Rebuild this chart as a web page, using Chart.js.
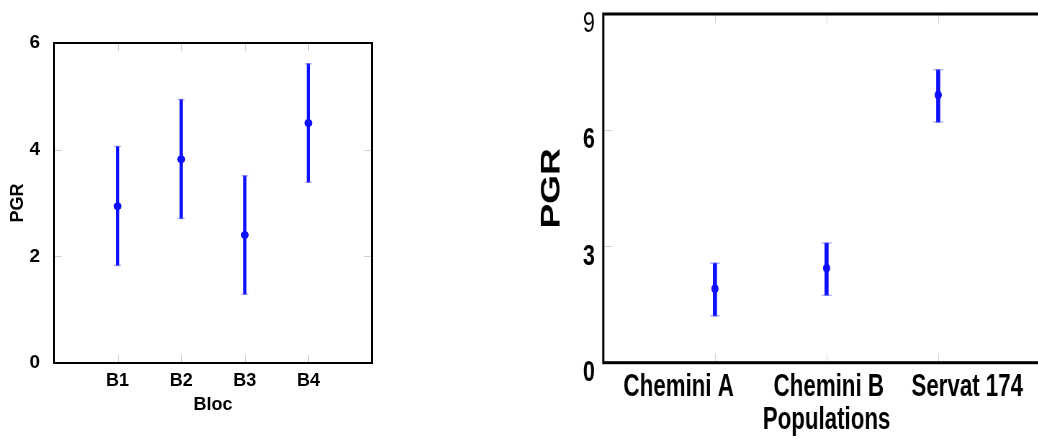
<!DOCTYPE html>
<html>
<head>
<meta charset="utf-8">
<script src="https://cdn.jsdelivr.net/npm/chart.js@4.4.1/dist/chart.umd.min.js"></script>
<style>
  html, body { margin: 0; padding: 0; background: #fff; overflow: hidden; width: 1038px; height: 439px; }
  #c1 { position: absolute; left: 0; top: 0; }
  /* the right panel in the original is squeezed sideways */
  #c2 { position: absolute; left: 530px; top: 0; transform: scaleX(0.72); transform-origin: 0 0; }
</style>
</head>
<body>
<canvas id="c1" width="400" height="439"></canvas>
<canvas id="c2" width="740" height="439"></canvas>
<script>
// left panel: PGR by bloc
const blocs = ['B1', 'B2', 'B3', 'B4']
const blocMean = [2.94, 3.82, 2.40, 4.50]
const blocLow = [1.83, 2.71, 1.29, 3.39]
const blocHigh = [4.06, 4.94, 3.51, 5.61]
const blocTicks = [0, 2, 4, 6]

// right panel: PGR by population
const populations = ['Chemini A', 'Chemini B', 'Servat 174']
const popMean = [1.91, 2.44, 6.91]
const popLow = [1.21, 1.74, 6.21]
const popHigh = [2.57, 3.09, 7.56]
const popTicks = [0, 3, 6, 9]

const BLUE = 'rgb(15,15,255)'
const CAP = 'rgba(90,90,255,0.45)'
const ARIAL = "'Liberation Sans', Arial, sans-serif"

// frame + short grey ticks pointing inwards
const frame = {
  id: 'frame',
  afterDraw(chart, args, opts) {
    const {ctx, chartArea: a, scales} = chart
    ctx.save()
    ctx.strokeStyle = '#cfcfcf'
    ctx.lineWidth = 1
    opts.xTicks.forEach(v => {
      const x = Math.round(scales.x.getPixelForValue(v)) + 0.5
      ctx.beginPath()
      ctx.moveTo(x, a.top); ctx.lineTo(x, a.top + opts.lenX)
      ctx.moveTo(x, a.bottom); ctx.lineTo(x, a.bottom - opts.lenX)
      ctx.stroke()
    })
    opts.yTicks.forEach(v => {
      const y = Math.round(scales.y.getPixelForValue(v)) + 0.5
      ctx.beginPath()
      ctx.moveTo(a.left, y); ctx.lineTo(a.left + opts.lenY, y)
      ctx.moveTo(a.right, y); ctx.lineTo(a.right - opts.lenY, y)
      ctx.stroke()
    })
    ctx.strokeStyle = '#000'
    ctx.lineWidth = opts.width
    ctx.strokeRect(a.left, a.top, a.right - a.left, a.bottom - a.top)
    ctx.restore()
  }
}

function makeDatasets(mean, low, high, o) {
  return [
    {
      type: 'scatter',
      data: mean.map((v, i) => ({x: i + 1, y: v})),
      backgroundColor: BLUE, borderColor: BLUE,
      pointRadius: o.dot, order: 0
    },
    {
      type: 'scatter',
      data: low.map((v, i) => ({x: i + 1, y: v})).concat(high.map((v, i) => ({x: i + 1, y: v}))),
      pointStyle: 'line', pointRadius: o.cap, borderColor: CAP, borderWidth: 1.5, order: 1
    },
    {
      type: 'bar',
      data: low.map((v, i) => ({x: i + 1, y: [v, high[i]]})),
      backgroundColor: BLUE, borderWidth: 0, barThickness: o.bar, grouped: false, order: 2
    }
  ]
}

// fixed axis boxes, no extra room for the end labels
const fixX = h => s => { s.height = h; s.paddingLeft = 0; s.paddingRight = 0 }
const fixY = w => s => { s.width = w; s.paddingTop = 0; s.paddingBottom = 0 }

new Chart(document.getElementById('c1'), {
  type: 'scatter',
  data: { datasets: makeDatasets(blocMean, blocLow, blocHigh, {dot: 3.5, cap: 3.5, bar: 2.6}) },
  options: {
    responsive: false, animation: false, devicePixelRatio: 1,
    layout: { padding: { top: 43, right: 28, left: 0, bottom: 0 } },
    plugins: {
      legend: { display: false }, tooltip: { enabled: false },
      frame: { xTicks: [1, 2, 3, 4], yTicks: blocTicks, lenX: 8, lenY: 8, width: 2 }
    },
    scales: {
      x: {
        type: 'linear', min: 0, max: 5, offset: false,
        afterBuildTicks: s => { s.ticks = blocs.map((b, i) => ({value: i + 1})) },
        afterFit: fixX(76),
        grid: { display: false, drawTicks: false }, border: { display: false },
        ticks: { color: '#000', padding: 7, maxRotation: 0, font: { family: ARIAL, size: 18, weight: 'bold' },
                 callback: (v, i) => blocs[i] },
        title: { display: true, text: 'Bloc', color: '#000', padding: { top: 0, bottom: 23 },
                 font: { family: ARIAL, size: 18, weight: 'bold' } }
      },
      y: {
        min: 0, max: 6,
        afterBuildTicks: s => { s.ticks = blocTicks.map(v => ({value: v})) },
        afterFit: fixY(54),
        grid: { display: false, drawTicks: false }, border: { display: false },
        ticks: { color: '#000', padding: 14, font: { family: ARIAL, size: 19, weight: 'bold' } },
        title: { display: true, text: 'PGR', color: '#000', padding: { top: 7, bottom: 0 },
                 font: { family: ARIAL, size: 18, weight: 'bold' } }
      }
    }
  },
  plugins: [frame]
})

// label centres as drawn under the population axis (not centred on the marks)
const popLabelAt = [0.675, 2.02, 3.26]

new Chart(document.getElementById('c2'), {
  type: 'scatter',
  data: { datasets: makeDatasets(popMean, popLow, popHigh, {dot: 4.5, cap: 7, bar: 5}) },
  options: {
    responsive: false, animation: false, devicePixelRatio: 1,
    layout: { padding: { top: 14, right: 18, left: 0, bottom: 0 } },
    plugins: {
      legend: { display: false }, tooltip: { enabled: false },
      frame: { xTicks: [1, 2, 3], yTicks: popTicks, lenX: 9, lenY: 12.5, width: 3 }
    },
    scales: {
      x: {
        type: 'linear', min: 0, max: 4, offset: false,
        afterBuildTicks: s => { s.ticks = popLabelAt.map(v => ({value: v})) },
        afterFit: fixX(76.3),
        grid: { display: false, drawTicks: false }, border: { display: false },
        ticks: { color: '#000', padding: 5.7, maxRotation: 0, autoSkip: false,
                 font: { family: ARIAL, size: 31, weight: 'bold' },
                 callback: (v, i) => populations[i] },
        title: { display: true, text: 'Populations', color: '#000', padding: { top: 0, bottom: 0 },
                 font: { family: ARIAL, size: 31, weight: 'bold' } }
      },
      y: {
        min: 0, max: 9,
        afterBuildTicks: s => { s.ticks = popTicks.map(v => ({value: v})) },
        afterFit: fixY(101.8),
        grid: { display: false, drawTicks: false }, border: { display: false },
        ticks: { color: '#000', padding: 11.5, labelOffset: 10,
                 font: c => ({ family: ARIAL, size: 30, weight: c.index === popTicks.length - 1 ? 'normal' : 'bold' }) },
        title: { display: true, text: 'PGR', color: '#000', padding: { top: 8.4, bottom: 0 },
                 font: { family: ARIAL, size: 37, weight: 'bold' } }
      }
    }
  },
  plugins: [frame]
})
</script>
</body>
</html>
